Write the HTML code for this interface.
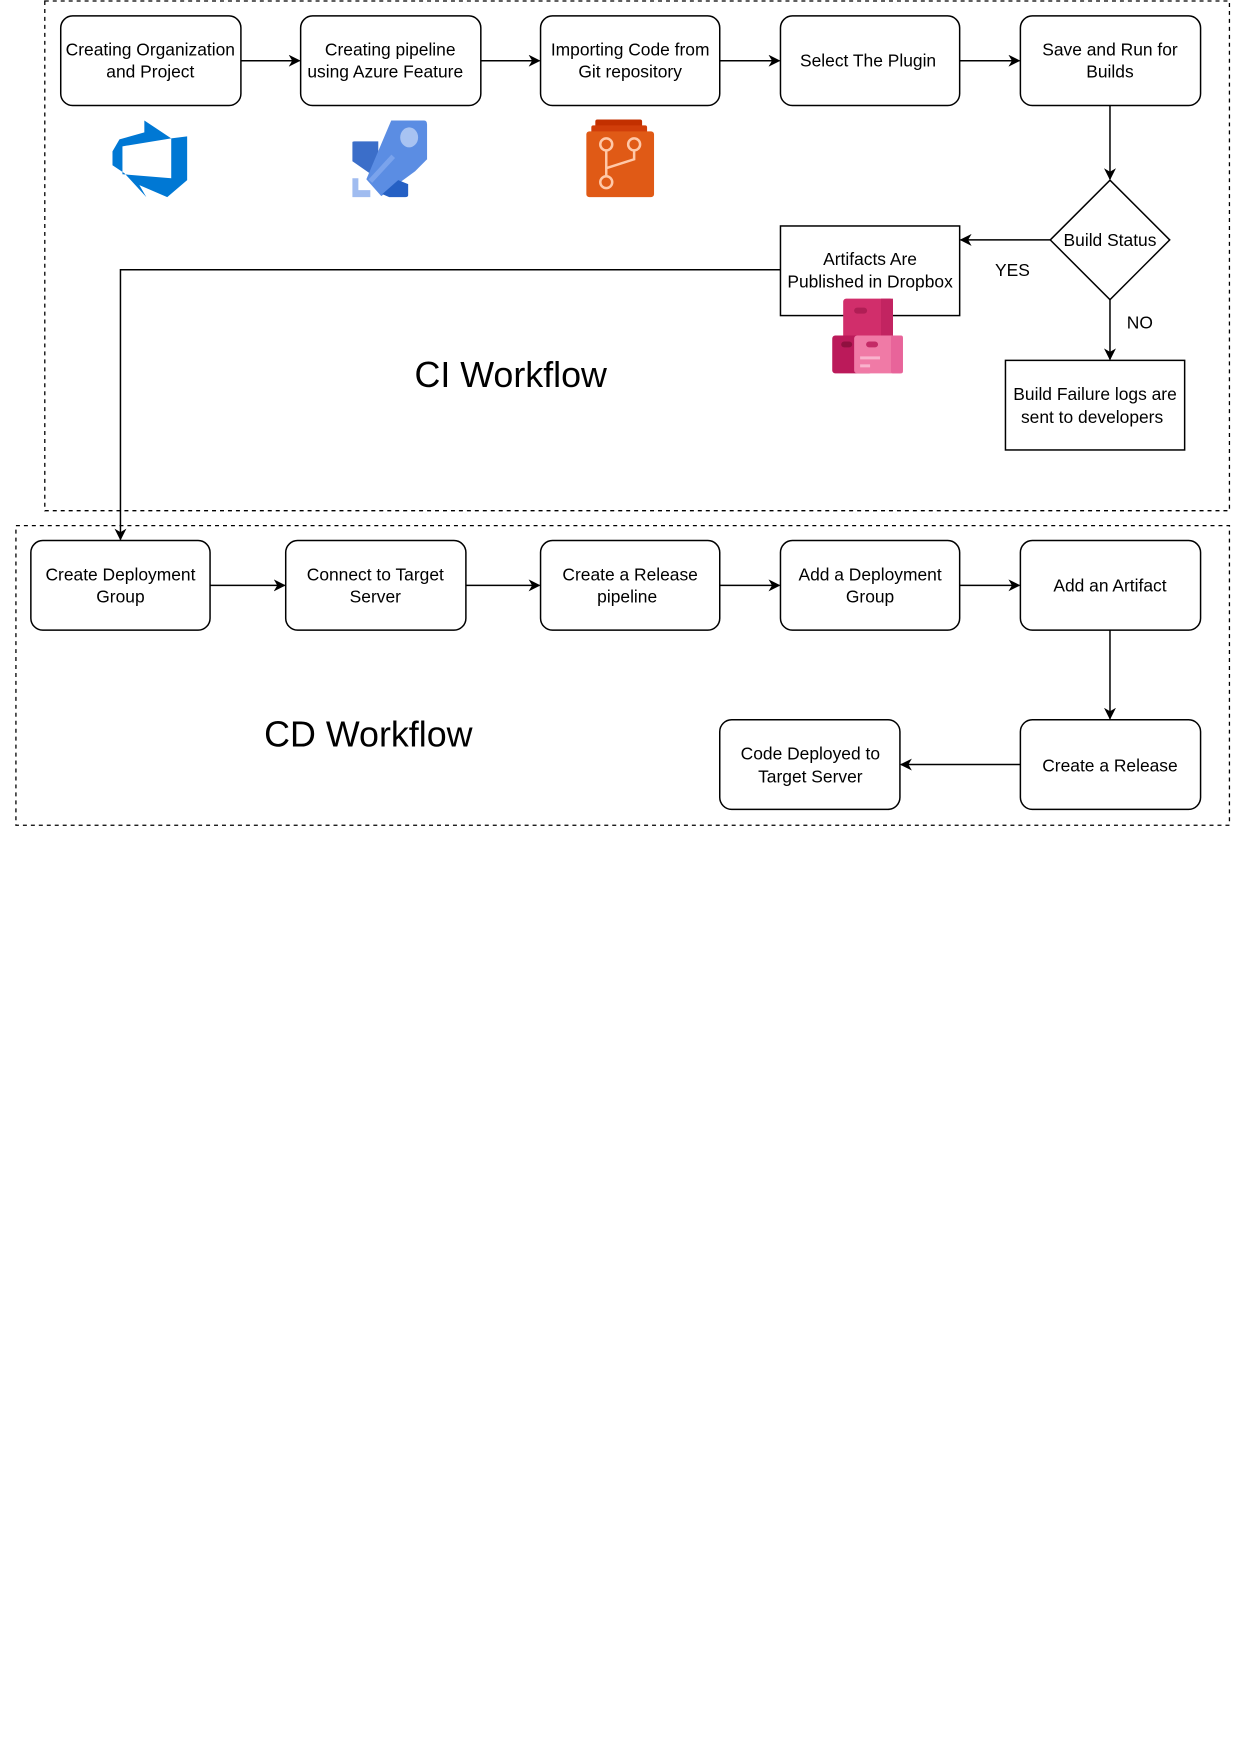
<!DOCTYPE html>
<html><head><meta charset="utf-8"><style>
html,body{margin:0;padding:0;background:#fff;}
svg{display:block;}
text{font-family:"Liberation Sans",sans-serif;font-size:17.5px;fill:#000;}
</style></head><body>
<svg width="1242" height="1756" viewBox="0 0 1242 1756" xmlns="http://www.w3.org/2000/svg">
<defs>
<marker id="a" markerWidth="12" markerHeight="12" refX="11" refY="6" orient="auto" markerUnits="userSpaceOnUse">
<path d="M0,0 L12,6 L0,12 L3.5,6 Z" fill="#000"/></marker>
</defs>
<g transform="scale(0.9955)">
<rect x="45" y="1" width="1190" height="512" fill="none" stroke="#000" stroke-width="1.3" stroke-dasharray="4,4"/>
<rect x="16" y="528" width="1219" height="301" fill="none" stroke="#000" stroke-width="1.3" stroke-dasharray="4,4"/>
<g fill="#fff" stroke="#000" stroke-width="1.5">
<rect x="61" y="16" width="181" height="90" rx="12"/>
<rect x="302" y="16" width="181" height="90" rx="12"/>
<rect x="543" y="16" width="180" height="90" rx="12"/>
<rect x="784" y="16" width="180" height="90" rx="12"/>
<rect x="1025" y="16" width="181" height="90" rx="12"/>
<polygon points="1115,181 1175,241 1115,301 1055,241"/>
<rect x="784" y="227" width="180" height="90"/>
<rect x="1010" y="362" width="180" height="90"/>
<rect x="31" y="543" width="180" height="90" rx="12"/>
<rect x="287" y="543" width="181" height="90" rx="12"/>
<rect x="543" y="543" width="180" height="90" rx="12"/>
<rect x="784" y="543" width="180" height="90" rx="12"/>
<rect x="1025" y="543" width="181" height="90" rx="12"/>
<rect x="1025" y="723" width="181" height="90" rx="12"/>
<rect x="723" y="723" width="181" height="90" rx="12"/>
</g>
<g stroke="#000" stroke-width="1.5" fill="none" marker-end="url(#a)">
<line x1="242" y1="61" x2="301" y2="61"/>
<line x1="483" y1="61" x2="542" y2="61"/>
<line x1="723" y1="61" x2="783" y2="61"/>
<line x1="964" y1="61" x2="1024" y2="61"/>
<line x1="1115" y1="106" x2="1115" y2="180"/>
<line x1="1055" y1="241" x2="965" y2="241"/>
<line x1="1115" y1="301" x2="1115" y2="361"/>
<polyline points="784,271 121,271 121,542"/>
<line x1="211" y1="588" x2="286" y2="588"/>
<line x1="468" y1="588" x2="542" y2="588"/>
<line x1="723" y1="588" x2="783" y2="588"/>
<line x1="964" y1="588" x2="1024" y2="588"/>
<line x1="1115" y1="633" x2="1115" y2="722"/>
<line x1="1025" y1="768" x2="905" y2="768"/>
</g>
<g text-anchor="middle">
<text x="151" y="56">Creating Organization</text><text x="151" y="78">and Project</text>
<text x="392" y="56">Creating pipeline</text><text x="387" y="78">using Azure Feature</text>
<text x="633" y="56">Importing Code from</text><text x="633" y="78">Git repository</text>
<text x="872" y="67">Select The Plugin</text>
<text x="1115" y="56">Save and Run for</text><text x="1115" y="78">Builds</text>
<text x="1115" y="247">Build Status</text>
<text x="874" y="266">Artifacts Are</text><text x="874" y="289">Published in Dropbox</text>
<text x="1100" y="402">Build Failure logs are</text><text x="1097" y="425">sent to developers</text>
<text x="1017" y="277">YES</text><text x="1145" y="330">NO</text>
<text x="513" y="389" style="font-size:36px">CI Workflow</text>
<text x="121" y="583">Create Deployment</text><text x="121" y="605">Group</text>
<text x="377" y="583">Connect to Target</text><text x="377" y="605">Server</text>
<text x="633" y="583">Create a Release</text><text x="630" y="605">pipeline</text>
<text x="874" y="583">Add a Deployment</text><text x="874" y="605">Group</text>
<text x="1115" y="594">Add an Artifact</text>
<text x="1115" y="775">Create a Release</text>
<text x="814" y="763">Code Deployed to</text><text x="814" y="786">Target Server</text>
<text x="370" y="750" style="font-size:36px">CD Workflow</text>
</g>
<path d="M145,121 L172,139 L188,137 L188,181 L168,198 L140,186 L147,198 L125,174 L113,166 L113,152 L120,140 L145,133 Z M123,147 L123,175 L172,179 L172,139 Z" fill="#0078d4" fill-rule="evenodd"/>
<path d="M354,143 Q354,142 356,142 L380,142 L380,180 L354,162 Z" fill="#3b6ec9"/>
<path d="M393,121 L426,121 Q429,121 429,125 L429,160 L417,172 L383,197 L368,180 Z" fill="#5b8de3"/>
<path d="M384,195 L400,181 L410,185 L410,196 Q410,198 407,198 L391,198 Z" fill="#2560c4"/>
<ellipse cx="411" cy="138" rx="9" ry="10" fill="#a8c3f2"/>
<path d="M354,179 L360,179 L360,191 L372,191 L372,198 L354,198 Z" fill="#a0bcf0"/>
<line x1="372" y1="182" x2="395" y2="157" stroke="#7aa3ec" stroke-width="5"/>
<rect x="598" y="120" width="47" height="8" rx="2" fill="#c33000"/>
<rect x="594" y="126" width="56" height="8" rx="2" fill="#d13e0a"/>
<rect x="589" y="132" width="68" height="66" rx="3" fill="#e05a16"/>
<g stroke="#ffc8a8" stroke-width="2.5" fill="none">
<circle cx="609" cy="145" r="6"/><circle cx="637" cy="145" r="6"/><circle cx="609" cy="183" r="6"/>
<line x1="609" y1="151" x2="609" y2="177"/><polyline points="637,151 637,160 609,169"/>
</g>
<rect x="847" y="300" width="50" height="54" rx="3" fill="#d12e6b"/>
<rect x="885" y="300" width="12" height="54" fill="#c22461"/>
<rect x="858" y="309" width="13" height="6" rx="3" fill="#b01e55"/>
<rect x="836" y="337" width="40" height="38" rx="3" fill="#bb1a5a"/>
<rect x="858" y="337" width="49" height="38" rx="3" fill="#f07aa6"/>
<rect x="895" y="337" width="12" height="38" rx="2" fill="#e8649a"/>
<rect x="845" y="343" width="11" height="6" rx="3" fill="#90103f"/>
<rect x="870" y="343" width="12" height="6" rx="3" fill="#c42a66"/>
<rect x="864" y="358" width="20" height="3" fill="#f9b3cd"/>
<rect x="864" y="366" width="10" height="3" fill="#f9b3cd"/>
</g>
</svg>
</body></html>
